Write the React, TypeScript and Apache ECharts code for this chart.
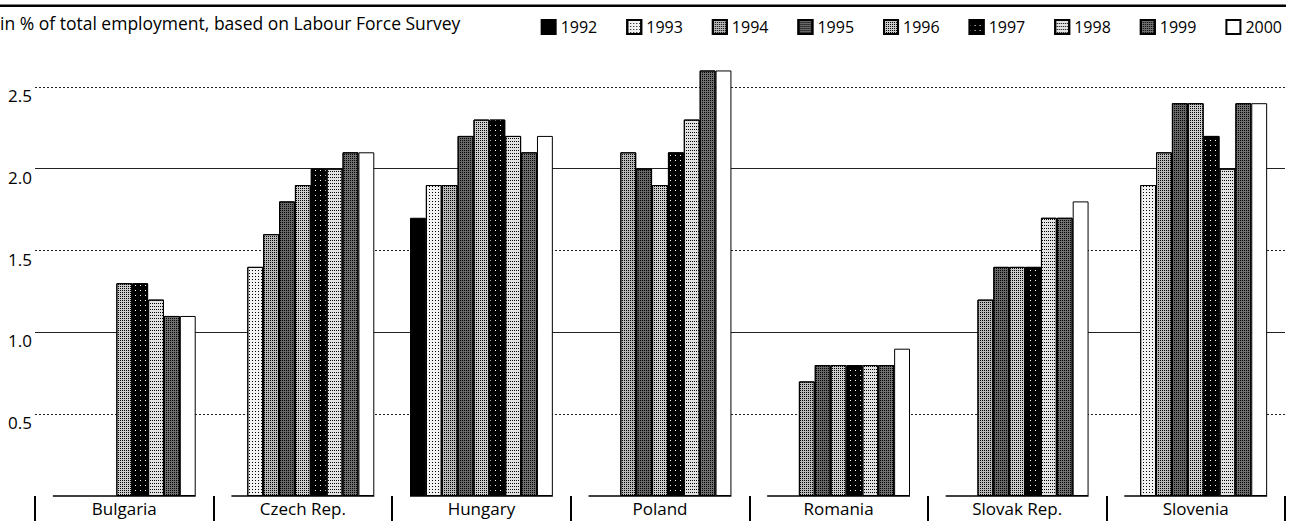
import React, { useEffect, useRef } from "react";
import * as echarts from "echarts";

const FONT = "'Open Sans', 'Noto Sans', sans-serif";

const titleText = "in % of total employment, based on Labour Force Survey";
const categories = ["Bulgaria", "Czech Rep.", "Hungary", "Poland", "Romania", "Slovak Rep.", "Slovenia"];
const years = ["1992", "1993", "1994", "1995", "1996", "1997", "1998", "1999", "2000"];

const v1992 = [null, null, 1.7, null, null, null, null];
const v1993 = [null, 1.4, 1.9, null, null, null, 1.9];
const v1994 = [null, 1.6, 1.9, 2.1, 0.7, 1.2, 2.1];
const v1995 = [null, 1.8, 2.2, 2.0, 0.8, 1.4, 2.4];
const v1996 = [1.3, 1.9, 2.3, 1.9, 0.8, 1.4, 2.4];
const v1997 = [1.3, 2.0, 2.3, 2.1, 0.8, 1.4, 2.2];
const v1998 = [1.2, 2.0, 2.2, 2.3, 0.8, 1.7, 2.0];
const v1999 = [1.1, 2.1, 2.1, 2.6, 0.8, 1.7, 2.4];
const v2000 = [1.1, 2.1, 2.2, 2.6, 0.9, 1.8, 2.4];

const seriesValues = [v1992, v1993, v1994, v1995, v1996, v1997, v1998, v1999, v2000];

// base fill + halftone dot overlay per year
const yearFills = ["#000000", "#f2f2f2", "#b8b8b8", "#676767", "#cccccc", "#000000", "#e2e2e2", "#707070", "#ffffff"];
const yearDecals: any[] = [
  null,
  { color: "#000", dashArrayX: [1, 2], dashArrayY: [1, 2] },
  { color: "#000", dashArrayX: [1, 1], dashArrayY: [1, 1] },
  { color: "#000", dashArrayX: [1, 1], dashArrayY: [1, 1] },
  { color: "#000", dashArrayX: [1, 1], dashArrayY: [1, 1] },
  { color: "#fff", dashArrayX: [1, 4], dashArrayY: [1, 4] },
  { color: "#000", dashArrayX: [1, 1], dashArrayY: [1, 2] },
  { color: "#000", dashArrayX: [1, 1], dashArrayY: [1, 1] },
  null,
];

export default function App() {
  const ref = useRef<HTMLDivElement>(null);
  useEffect(() => {
    if (!ref.current) return;
    const chart = echarts.init(ref.current, null, { renderer: "svg" });
    const barSeries = years.map((y, i) => {
      const itemStyle: any = { color: yearFills[i], borderColor: "#000", borderWidth: 1 };
      if (yearDecals[i]) {
        itemStyle.decal = { symbol: "rect", symbolSize: 1, rotation: 0, ...yearDecals[i] };
      }
      return {
        name: y,
        type: "bar",
        yAxisIndex: 0,
        data: seriesValues[i],
        barGap: "0%",
        barCategoryGap: "20%",
        itemStyle,
        z: 3,
      };
    });
    const baseline = {
      name: "baseline",
      type: "custom",
      yAxisIndex: 0,
      z: 4,
      data: categories.map((_, i) => [i, 0]),
      renderItem: (params: any, api: any) => {
        const p = api.coord([api.value(0), 0]);
        const w = api.size([1, 0])[0];
        return {
          type: "line",
          shape: { x1: p[0] - w * 0.4, y1: p[1], x2: p[0] + w * 0.4, y2: p[1] },
          style: { stroke: "#000", lineWidth: 1.5 },
        };
      },
      silent: true,
    };
    chart.setOption({
      animation: false,
      backgroundColor: "#fff",
      textStyle: { fontFamily: FONT },
      title: {
        text: titleText,
        left: 0,
        top: 14,
        padding: 0,
        textStyle: { fontSize: 17.5, fontWeight: "normal", color: "#000", fontFamily: FONT },
      },
      legend: {
        data: years,
        right: 13,
        top: 14,
        itemWidth: 14,
        itemHeight: 14,
        itemGap: 29,
        icon: "rect",
        textStyle: { fontSize: 16, color: "#000", fontFamily: FONT },
      },
      graphic: [
        { type: "rect", shape: { x: 0, y: 4.5, width: 1286, height: 2.5 }, style: { fill: "#000" } },
      ],
      grid: { left: 35, right: 15, top: 5, height: 491 },
      xAxis: {
        type: "category",
        data: categories,
        axisLine: { show: false },
        axisTick: { show: true, length: 25, lineStyle: { color: "#000", width: 2 } },
        axisLabel: { margin: 4, fontSize: 17, color: "#000", fontFamily: FONT },
      },
      yAxis: [
        {
          type: "value",
          min: 0,
          max: 3,
          interval: 0.5,
          axisLine: { show: false },
          axisTick: { show: false },
          axisLabel: {
            margin: 3,
            fontSize: 17,
            color: "#000",
            verticalAlign: "top",
            fontFamily: FONT,
            formatter: (v: number) => (v > 0 && v < 3 ? v.toFixed(1) : ""),
          },
          splitLine: {
            show: true,
            showMinLine: false,
            showMaxLine: false,
            lineStyle: { color: "#222", width: 1, type: [2, 2] },
          },
        },
        {
          type: "value",
          min: 0,
          max: 3,
          interval: 1,
          position: "left",
          axisLine: { show: false },
          axisTick: { show: false },
          axisLabel: { show: false },
          splitLine: {
            show: true,
            showMinLine: false,
            showMaxLine: false,
            lineStyle: { color: "#222", width: 1, type: "solid" },
          },
        },
      ],
      series: [...barSeries, baseline],
    });
    return () => chart.dispose();
  }, []);
  return <div ref={ref} style={{ position: "fixed", left: 0, top: 0, width: 1300, height: 522 }} />;
}
